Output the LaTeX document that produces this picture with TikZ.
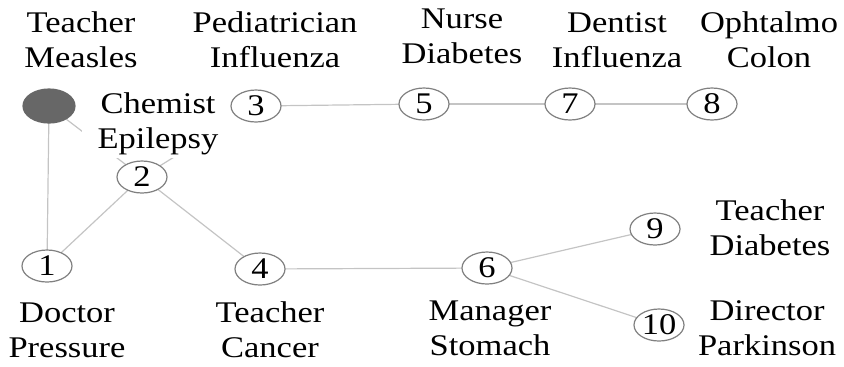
\documentclass[tikz,border=0pt]{standalone}
\usepackage{fontspec}
\setmainfont{Liberation Serif}[FakeStretch=1.15]
\usetikzlibrary{shapes.geometric}
\definecolor{edgegray}{HTML}{C4C4C4}
\definecolor{rimgray}{HTML}{808080}
\definecolor{darkfill}{HTML}{676767}
\begin{document}
\begin{tikzpicture}[x=0.5pt,y=-0.5pt,
  vert/.style={ellipse,draw=rimgray,line width=0.6pt,fill=white,minimum width=25pt,minimum height=16pt,inner sep=0pt,font=\fontsize{15}{17.5}\selectfont},
  link/.style={draw=edgegray,line width=0.6pt},
  lab/.style={align=center,inner sep=0pt,anchor=base,font=\fontsize{15}{17.5}\selectfont}]
\useasboundingbox (0,0) rectangle (844,366);
% vertices
\coordinate (p0) at (49,106);
\coordinate (p1) at (47,266);
\coordinate (p2) at (142,177);
\coordinate (p3) at (256,106);
\coordinate (p4) at (260,269);
\coordinate (p5) at (424,104);
\coordinate (p6) at (487,268);
\coordinate (p7) at (570,104);
\coordinate (p8) at (712,104);
\coordinate (p9) at (655,229);
\coordinate (p10) at (659,325);
% edges
\draw[link] (p0) -- (p1);
\draw[link] (p0) -- (p2);
\draw[link] (p2) -- (p3);
\draw[link] (p2) -- (p1);
\draw[link] (p2) -- (p4);
\draw[link] (p4) -- (p6);
\draw[link] (p6) -- (p9);
\draw[link] (p6) -- (p10);
\draw[link] (p3) -- (p5);
\draw[link] (p5) -- (p7);
\draw[link] (p7) -- (p8);
% labels (anchor = baseline of the last line)
\node[lab] (lTM) at (81,67) {Teacher\\Measles};
\node[lab] (lPI) at (275,67) {Pediatrician\\Influenza};
\node[lab] (lND) at (462,63) {Nurse\\Diabetes};
\node[lab] (lDI) at (617,67) {Dentist\\Influenza};
\node[lab] (lOC) at (769,67) {Ophtalmo\\Colon};
\node[lab,fill=white,inner xsep=8pt,inner ysep=2pt] (lCE) at (170,148) {Chemist\kern12pt\\Epilepsy\kern12pt};
\node[lab] (lDP) at (67,357) {Doctor\\Pressure};
\node[lab] (lTC) at (270,357) {Teacher\\Cancer};
\node[lab] (lMS) at (490,355) {Manager\\Stomach};
\node[lab] (lTD) at (770,255) {Teacher\\Diabetes};
\node[lab] (lDK) at (767,355) {Director\\Parkinson};
% nodes
\node[vert,fill=darkfill,draw=darkfill,minimum width=26pt,minimum height=17pt] (n0) at (p0) {};
\node[vert] (n1) at (p1) {1};
\node[vert] (n2) at (p2) {2};
\node[vert] (n3) at (p3) {3};
\node[vert] (n4) at (p4) {4};
\node[vert] (n5) at (p5) {5};
\node[vert] (n6) at (p6) {6};
\node[vert] (n7) at (p7) {7};
\node[vert] (n8) at (p8) {8};
\node[vert] (n9) at (p9) {9};
\node[vert] (n10) at (p10) {10};
\end{tikzpicture}
\end{document}
